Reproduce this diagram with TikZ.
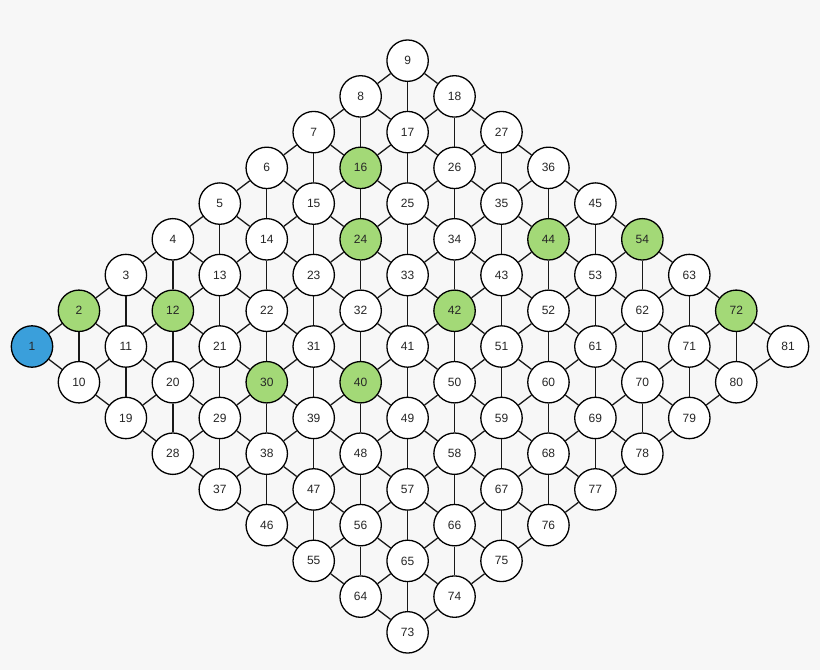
\documentclass[tikz,border=0pt]{standalone}
\usepackage{fontspec}
\setmainfont{Liberation Sans}
\definecolor{boardbg}{HTML}{F7F7F7}
\definecolor{cellblue}{HTML}{3A9FDB}
\definecolor{cellgreen}{HTML}{A3D977}
\tikzset{
    cell/.style={circle, draw=black, fill=white, line width=1.3pt, minimum size=41.4pt,
        inner sep=0pt, text=black!85, font=\fontsize{12}{14}\selectfont},
    link/.style={draw=black!90, line width=1.3pt},
    % marked cells
    cell 1/.style={fill=cellblue},
    cell 2/.style={fill=cellgreen}, cell 12/.style={fill=cellgreen},
    cell 16/.style={fill=cellgreen}, cell 24/.style={fill=cellgreen},
    cell 30/.style={fill=cellgreen}, cell 40/.style={fill=cellgreen},
    cell 42/.style={fill=cellgreen}, cell 44/.style={fill=cellgreen},
    cell 54/.style={fill=cellgreen}, cell 72/.style={fill=cellgreen},
    cell 81/.style={xshift=4.8pt}
}
\begin{document}
\begin{tikzpicture}[x=1pt,y=-1pt]
    \fill[boardbg] (0,0) rectangle (820,670);
    \useasboundingbox (0,0) rectangle (820,670);

    % --- 9x9 board, cell k = 1 + c + 9r ---
    \foreach \r in {0,...,8}
      \foreach \c in {0,...,8} {
        \pgfmathtruncatemacro{\k}{1+\c+9*\r}
        \node[cell, cell \k/.try] (n\k) at ({32+46.95*(\c+\r)}, {346.5-35.73*(\c-\r)}) {\k};
      }

    % --- six neighbours of a hex cell ---
    \foreach \r in {0,...,8}
      \foreach \c in {0,...,8} {
        \pgfmathtruncatemacro{\k}{1+\c+9*\r}
        \pgfmathtruncatemacro{\kr}{\k+1}
        \pgfmathtruncatemacro{\kd}{\k+9}
        \pgfmathtruncatemacro{\kv}{\k+8}
        \ifnum\c<8 \draw[link] (n\k) -- (n\kr); \fi
        \ifnum\r<8 \draw[link] (n\k) -- (n\kd); \fi
        \ifnum\r<8 \ifnum\c>0 \draw[link] (n\k) -- (n\kv); \fi\fi % vertical
      }
\end{tikzpicture}
\end{document}
